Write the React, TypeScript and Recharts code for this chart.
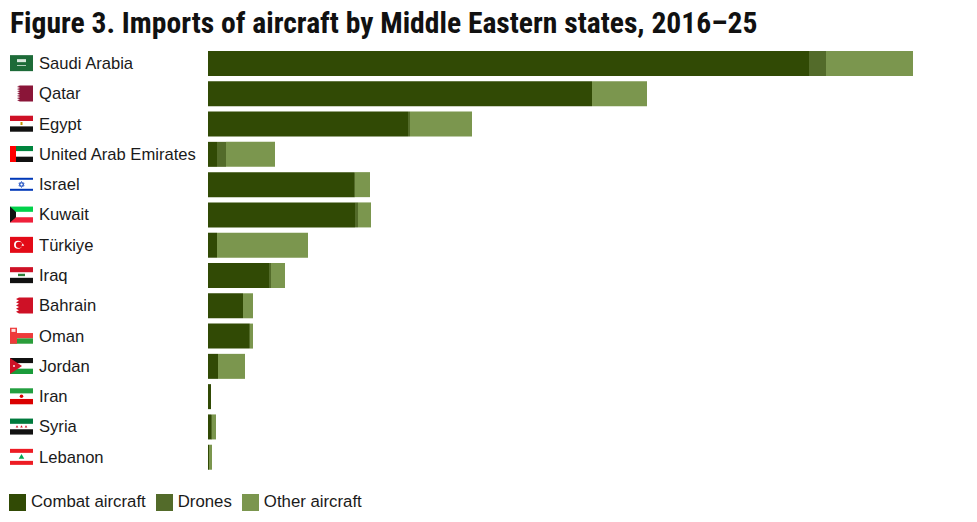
import React from "react";
import { BarChart, Bar, XAxis, YAxis } from "recharts";

// ─── Data (bar lengths, same units as the x domain) ──────────────────────────

const COUNTRIES = [
  "Saudi Arabia", "Qatar", "Egypt", "United Arab Emirates", "Israel", "Kuwait", "Türkiye",
  "Iraq", "Bahrain", "Oman", "Jordan", "Iran", "Syria", "Lebanon",
];
const COMBAT = [601, 384, 200, 9, 146, 147, 9, 61, 35, 41, 10, 3, 3, 1];
const DRONES = [17, 0, 2, 9, 1, 3, 0, 2, 0, 1, 0, 0, 1, 0];
const OTHER  = [87, 55, 62, 49, 15, 13, 91, 14, 10, 3, 27, 0, 4, 3];
const X_MAX = 705;

const SERIES = [
  { key: "combat", name: "Combat aircraft", color: "#314a05" },
  { key: "drones", name: "Drones",          color: "#536b2a" },
  { key: "other",  name: "Other aircraft",  color: "#7b964e" },
] as const;

const data = COUNTRIES.map((country, i) => ({
  country,
  combat: COMBAT[i],
  drones: DRONES[i],
  other:  OTHER[i],
}));

// ─── Flags (23 x 16) ─────────────────────────────────────────────────────────

const W = 23, H = 16, T = H / 3;

const tri = (cx: number, cy: number, r: number) =>
  `${cx},${cy - r} ${cx + r * 0.87},${cy + r / 2} ${cx - r * 0.87},${cy + r / 2}`;

const serrated = (x0: number, depth: number, n: number) => {
  const pts: string[] = [`${W},0`, `${x0},0`];
  for (let i = 0; i < n; i++) {
    const y = (H / n) * i;
    pts.push(`${x0 - depth},${y + H / n / 2}`, `${x0},${y + H / n}`);
  }
  pts.push(`${W},${H}`);
  return pts.join(" ");
};

const Stripes = ({ c }: { c: [string, string, string] }) => (
  <>
    <rect width={W} height={T} fill={c[0]} />
    <rect y={T} width={W} height={T} fill={c[1]} />
    <rect y={2 * T} width={W} height={T} fill={c[2]} />
  </>
);

const Flag = ({ name }: { name: string }) => {
  switch (name) {
    case "Saudi Arabia":
      return (<>
        <rect width={W} height={H} fill="#1d6b38" />
        <rect x={7} y={4} width={9} height={3} fill="#d9e8dd" />
        <rect x={7} y={10} width={9} height={0.8} fill="#d9e8dd" />
      </>);
    case "Qatar":
      return (<>
        <rect width={W} height={H} fill="#fff" />
        <polygon points={serrated(10, 3, 9)} fill="#8a1538" />
      </>);
    case "Egypt":
      return (<>
        <Stripes c={["#ce1126", "#fff", "#111"]} />
        <rect x={10.5} y={6.3} width={2} height={3} fill="#c09300" />
      </>);
    case "United Arab Emirates":
      return (<>
        <Stripes c={["#00843d", "#fff", "#111"]} />
        <rect width={6} height={H} fill="#ff0000" />
      </>);
    case "Israel":
      return (<>
        <rect width={W} height={H} fill="#fff" />
        <rect y={1.5} width={W} height={2} fill="#0038b8" />
        <rect y={12.5} width={W} height={2} fill="#0038b8" />
        <polygon points={tri(11.5, 8.2, 3)} fill="none" stroke="#0038b8" strokeWidth={0.7} />
        <polygon points={tri(11.5, 8.2, -3)} fill="none" stroke="#0038b8" strokeWidth={0.7} />
      </>);
    case "Kuwait":
      return (<>
        <Stripes c={["#00d24a", "#fff", "#f0203a"]} />
        <polygon points={`0,0 6,${T} 6,${2 * T} 0,${H}`} fill="#111" />
      </>);
    case "Türkiye":
      return (<>
        <rect width={W} height={H} fill="#e30a17" />
        <circle cx={8} cy={8} r={4} fill="#fff" />
        <circle cx={9} cy={8} r={3.2} fill="#e30a17" />
        <polygon points={tri(12.8, 8, 1.6)} fill="#fff" />
      </>);
    case "Iraq":
      return (<>
        <Stripes c={["#ce1126", "#fff", "#111"]} />
        <rect x={8} y={6.6} width={7} height={2.4} fill="#2e7d3a" />
      </>);
    case "Bahrain":
      return (<>
        <rect width={W} height={H} fill="#fff" />
        <polygon points={serrated(9, 3, 5)} fill="#ce1126" />
      </>);
    case "Oman":
      return (<>
        <Stripes c={["#fff", "#ee3a3a", "#2a9d3a"]} />
        <rect width={7} height={H} fill="#ee3a3a" />
        <rect x={1.5} y={1.2} width={4} height={3} fill="#fbe0e0" />
      </>);
    case "Jordan":
      return (<>
        <Stripes c={["#111", "#fff", "#1a9b3a"]} />
        <polygon points={`0,0 12,8 0,${H}`} fill="#ce1126" />
        <circle cx={4} cy={8} r={0.9} fill="#fff" />
      </>);
    case "Iran":
      return (<>
        <Stripes c={["#239f40", "#fff", "#da0000"]} />
        <circle cx={11.5} cy={8} r={1.8} fill="#da0000" />
      </>);
    case "Syria":
      return (<>
        <Stripes c={["#007a3d", "#fff", "#111"]} />
        {[7, 11.5, 16].map((cx) => (
          <polygon key={cx} points={tri(cx, 8.3, 1.5)} fill="#ce1126" />
        ))}
      </>);
    case "Lebanon":
      return (<>
        <rect width={W} height={H} fill="#ed1c24" />
        <rect y={4} width={W} height={8} fill="#fff" />
        <polygon points={tri(11.5, 8.4, 3.2)} fill="#00a651" />
      </>);
    default:
      return null;
  }
};

// ─── Y axis tick: flag + country name ────────────────────────────────────────

const CountryTick = ({ y, payload }: any) => (
  <g transform={`translate(0,${y})`}>
    <g transform="translate(10,-8)">
      <Flag name={payload.value} />
    </g>
    <text x={39} y={0} dy={5.8} fontSize={16.6} fill="#1a1a1a" fontFamily="'Liberation Sans', Arial, sans-serif">
      {payload.value}
    </text>
  </g>
);

// ─── Component ───────────────────────────────────────────────────────────────

export default function App() {
  return (
    <div style={s.page}>
      <style>{`body{margin:0;background:#fff}`}</style>
      <div style={s.title}>Figure 3. Imports of aircraft by Middle Eastern states, 2016–25</div>

      <div style={{ position: "absolute", left: 0, top: 0 }}>
        <BarChart
          width={977}
          height={480}
          data={data}
          layout="vertical"
          margin={{ top: 48, right: 64, bottom: 8, left: 0 }}
          barSize={25}
        >
          <XAxis type="number" domain={[0, X_MAX]} hide />
          <YAxis
            type="category"
            dataKey="country"
            width={208}
            axisLine={false}
            tickLine={false}
            interval={0}
            tick={<CountryTick />}
          />
          {SERIES.map(({ key, name, color }) => (
            <Bar key={key} dataKey={key} name={name} stackId="a" fill={color} isAnimationActive={false} />
          ))}
        </BarChart>
      </div>

      <div style={s.legend}>
        {SERIES.map(({ key, name, color }) => (
          <div key={key} style={s.legendItem}>
            <span style={{ ...s.swatch, background: color }} />
            <span>{name}</span>
          </div>
        ))}
      </div>
    </div>
  );
}

// ─── Styles ──────────────────────────────────────────────────────────────────

const s: Record<string, React.CSSProperties> = {
  page:       { position: "relative", width: 977, height: 522, background: "#fff", fontFamily: "'Liberation Sans', Arial, sans-serif", color: "#1a1a1a" },
  title:      { position: "absolute", left: 10, top: 8, fontSize: 29.6, lineHeight: "30px", fontWeight: 700, fontFamily: "'Liberation Sans Narrow', 'Roboto Condensed', Roboto, sans-serif", color: "#111", whiteSpace: "nowrap" },
  legend:     { position: "absolute", left: 9, top: 492, display: "flex", alignItems: "center", fontSize: 16.8 },
  legendItem: { display: "flex", alignItems: "center", gap: 5, marginRight: 10 },
  swatch:     { width: 17, height: 17, display: "inline-block" },
};
